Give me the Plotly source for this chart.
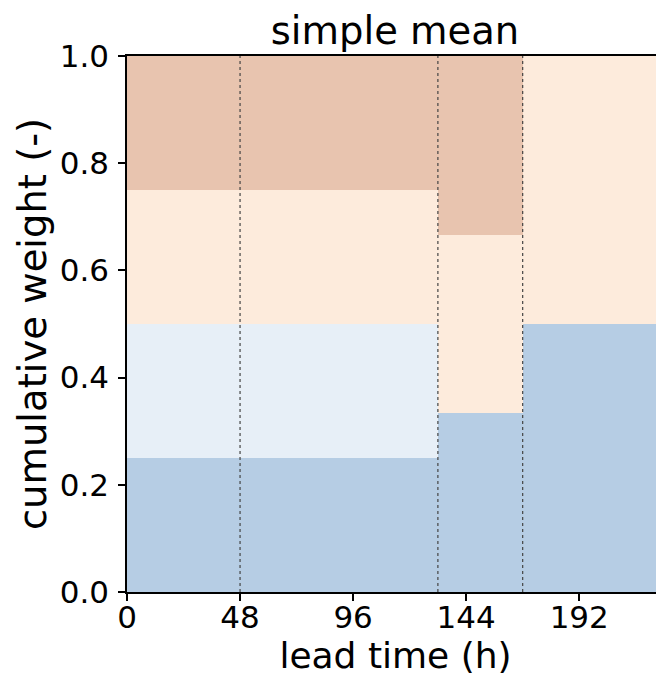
import plotly.graph_objects as go

# Segment edges of lead time (h)
segment_edges = [0, 132, 168, 240]
# Weights of each member within each segment
member_names = ["member 1", "member 2", "member 3", "member 4"]
w_member1 = [0.25, 1/3, 0.5]
w_member2 = [0.25, 0.0, 0.0]
w_member3 = [0.25, 1/3, 0.5]
w_member4 = [0.25, 1/3, 0.0]
# Dotted vertical separator positions (h)
separator_times = [48, 132, 168]
x_ticks = [0, 48, 96, 144, 192]
y_ticks = [0.0, 0.2, 0.4, 0.6, 0.8, 1.0]

colors = ["#b6cde4", "#e7eff7", "#fdebdc", "#e8c4af"]

centers = [(a + b) / 2 for a, b in zip(segment_edges[:-1], segment_edges[1:])]
widths = [b - a for a, b in zip(segment_edges[:-1], segment_edges[1:])]

fig = go.Figure()
for name, w, c in zip(member_names, [w_member1, w_member2, w_member3, w_member4], colors):
    fig.add_trace(go.Bar(x=centers, y=w, width=widths, name=name,
                         marker=dict(color=c, line=dict(width=0)),
                         showlegend=False))

for t in separator_times:
    fig.add_shape(type="line", xref="x", yref="y", x0=t, x1=t, y0=0, y1=1,
                  line=dict(color="#444444", width=1.2, dash="dot"), layer="above")

font_family = "DejaVu Sans"
# The page body has an 8px margin, so the figure is sized and offset for it.
W, H = 656, 668
fig.update_layout(
    width=W, height=H,
    barmode="stack", bargap=0,
    paper_bgcolor="white", plot_bgcolor="white",
    margin=dict(l=119, r=0, t=48, b=84),
    font=dict(family=font_family, color="black"),
    title=dict(text="simple mean", x=387 / W, xanchor="center", xref="container",
               y=1 - 23 / H, yanchor="middle", yref="container",
               font=dict(size=38.5, family=font_family, color="black")),
)
fig.update_xaxes(range=[0, 228], tickvals=x_ticks, ticktext=[str(v) for v in x_ticks],
                 ticks="outside", ticklen=7, tickwidth=1.5, tickcolor="black",
                 showline=True, linecolor="black", linewidth=1.5, mirror=True,
                 showgrid=False, zeroline=False, ticklabelstandoff=-10,
                 tickfont=dict(size=31, family=font_family),
                 title=dict(text="lead time (h)", font=dict(size=36, family=font_family), standoff=10))
fig.update_yaxes(range=[0, 1], tickvals=y_ticks, ticktext=[f"{v:.1f}" for v in y_ticks],
                 ticks="outside", ticklen=7, tickwidth=1.5, tickcolor="black",
                 showline=True, linecolor="black", linewidth=1.5, mirror=False,
                 showgrid=False, zeroline=False, ticklabelstandoff=3,
                 tickfont=dict(size=31, family=font_family),
                 title=dict(text="cumulative weight (-)", font=dict(size=38.5, family=font_family), standoff=1))

fig.write_html("out.html")
